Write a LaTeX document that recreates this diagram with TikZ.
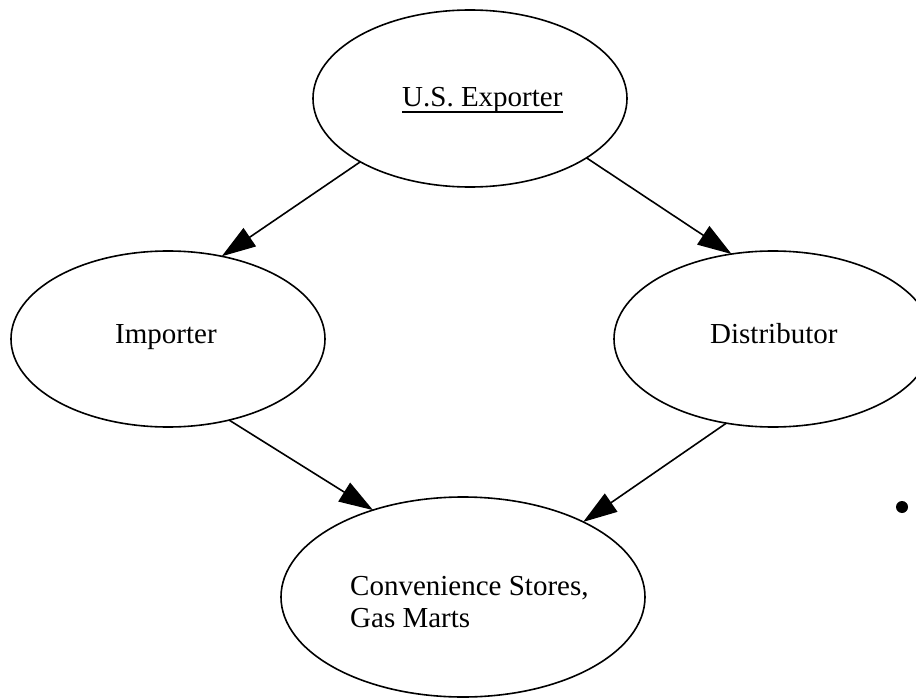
\documentclass[tikz,border=0pt]{standalone}
\usepackage{fontspec}
\setmainfont{Liberation Serif}
\usetikzlibrary{shapes.geometric,arrows.meta}
\begin{document}
\begin{tikzpicture}[x=1pt,y=-1pt,
  oval/.style={draw=black,line width=1.6pt,ellipse,inner sep=0pt,outer sep=0pt},
  lbl/.style={anchor=base west,inner sep=0pt,font=\fontsize{29}{32}\selectfont},
  flow/.style={line width=1.6pt,-{Triangle[length=34pt,width=22pt]}}]
\useasboundingbox (0,0) rectangle (916,698);
\node[oval,minimum width=314pt,minimum height=177pt] (exp) at (470,98.5) {};
\node[oval,minimum width=314pt,minimum height=176pt] (imp) at (168,339) {};
\node[oval,minimum width=318pt,minimum height=176pt] (dis) at (773,339) {};
\node[oval,minimum width=364pt,minimum height=200pt] (con) at (463,597) {};
\node[lbl] (exptext) at (402,107) {U.S. Exporter};
\draw[line width=1.6pt] (exptext.base west) ++(0,5) coordinate (ula) -- (ula -| exptext.base east);
\node[lbl] (imptext) at (115,343) {Importer};
\node[lbl] (distext) at (710,343) {Distributor};
\node[lbl] (context1) at (350,595) {Convenience Stores,};
\node[lbl] (context2) at (350,627) {Gas Marts};
\draw[flow] (exp.210.8) -- (imp.57.3);
\draw[flow] (exp.333.6) -- (dis.116.3);
\draw[flow] (imp.307.6) -- (con.136.9);
\draw[flow] (dis.241.9) -- (con.32.3);
\fill (902,507) circle[radius=6pt] node (dot) {};
\end{tikzpicture}
\end{document}
